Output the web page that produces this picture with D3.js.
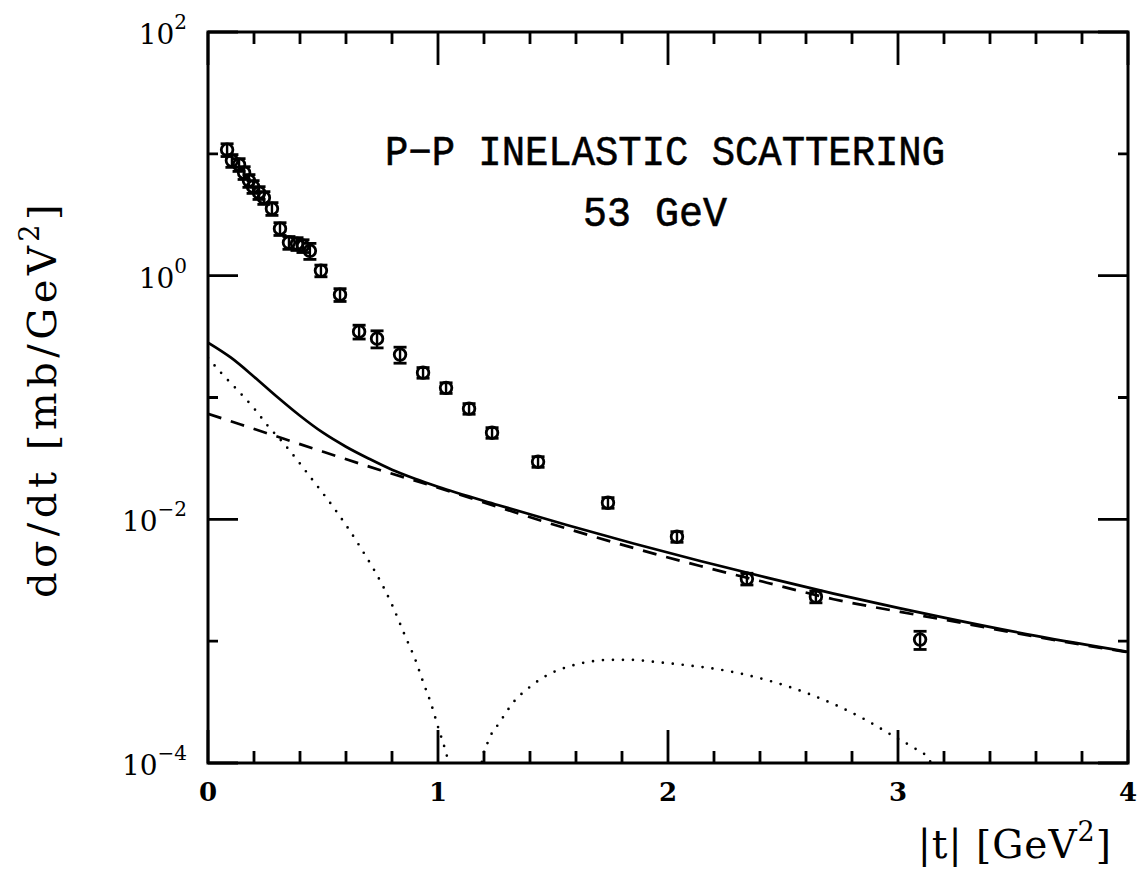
<!DOCTYPE html>
<html><head><meta charset="utf-8">
<script src="https://cdn.jsdelivr.net/npm/d3@7"></script>
<style>body{margin:0;background:#fff}</style>
</head><body>
<svg id="c" width="1143" height="873" xmlns="http://www.w3.org/2000/svg"></svg>
<script>
// ---- data ----
const ptT = [0.083,0.104,0.135,0.157,0.178,0.196,0.222,0.243,0.278,0.313,0.352,0.387,0.413,0.443,0.491,0.574,0.657,0.735,0.835,0.935,1.035,1.135,1.235,1.435,1.739,2.039,2.343,2.643,3.096];
const ptV = [10.8,8.8,8.15,7.0,6.03,5.38,4.8,4.37,3.55,2.43,1.87,1.83,1.76,1.6,1.1,0.698,0.347,0.304,0.225,0.160,0.120,0.081,0.0514,0.0297,0.0137,0.0072,0.00325,0.00232,0.00103];
const ptErr = [0.12,0.12,0.12,0.12,0.12,0.12,0.12,0.12,0.12,0.12,0.12,0.12,0.12,0.15,0.11,0.12,0.13,0.16,0.15,0.1,0.1,0.1,0.1,0.1,0.1,0.1,0.11,0.11,0.17];

const solidT = [0,0.1,0.2,0.3,0.4,0.5,0.6,0.7,0.8,0.9,1.0,1.26,1.56,1.85,2.14,2.43,2.72,3.01,3.2,3.6,4.0];
const solidV = [0.282,0.2122,0.1482,0.1015,0.0709,0.0514,0.03946,0.03145,0.02554,0.02154,0.01852,0.01313,0.00898,0.00634,0.00455,0.00332,0.002455,0.001859,0.00156,0.001105,0.000818];

const dashT = [0,0.25,0.5,0.75,1.0,1.26,1.56,1.85,2.14,2.43,2.72,3.01,3.2,3.6,4.0];
const dashV = [0.0736,0.0514,0.0359,0.0253,0.01817,0.01264,0.0084,0.00582,0.00414,0.00302,0.00221,0.00174,0.0015,0.001085,0.00081];

const dot1T = [0.0,0.06,0.13,0.2,0.26,0.33,0.39,0.45,0.55,0.65,0.8,0.86,0.9,0.935,0.97,1.0,1.03,1.06];
const dot1V = [0.212,0.157,0.114,0.0815,0.0586,0.0418,0.0303,0.0216,0.01222,0.00643,0.00199,0.00107,0.000716,0.000464,0.000306,0.000198,0.000131,0.00008];

const dot2T = [1.18,1.19,1.217,1.27,1.326,1.4,1.478,1.565,1.657,1.75,1.843,1.935,2.026,2.3,2.6,2.85,3.0,3.07,3.13,3.17];
const dot2V = [0.00007,0.0001,0.000149,0.000218,0.000312,0.000422,0.00053,0.000616,0.000678,0.000703,0.000703,0.000678,0.000652,0.00055,0.000377,0.000231,0.000158,0.000133,0.00011,0.00008];

const xMajor = [0,1,2,3,4];
const xTickLabels = ["0","1","2","3","4"];
const xMinor = [0.2,0.4,0.6,0.8,1.2,1.4,1.6,1.8,2.2,2.4,2.6,2.8,3.2,3.4,3.6,3.8];
const yMajor = [1e2,1e0,1e-2,1e-4];
const yTickExp = ["2","0","\u22122","\u22124"];
const yMinor = [1e1,1e-1,1e-3];

const titleLines = ["P\u2212P INELASTIC SCATTERING","53 GeV"];

// ---- drawing ----
const svg = d3.select("#c");
svg.append("rect").attr("width",1143).attr("height",873).attr("fill","#fff");
const L=208,R=1128,T=32,B=763;
const x = d3.scaleLinear().domain([0,4]).range([L,R]);
const y = d3.scaleLog().domain([1e-4,1e2]).range([B,T]);

svg.append("defs").append("clipPath").attr("id","clip")
  .append("rect").attr("x",L).attr("y",T).attr("width",R-L).attr("height",B-T);

// ticks (inward, on all four sides)
const tp = d3.path();
function xt(vals,len){ vals.forEach(d=>{ const px=x(d); tp.moveTo(px,B); tp.lineTo(px,B-len); tp.moveTo(px,T); tp.lineTo(px,T+len); }); }
function ytk(vals,len){ vals.forEach(d=>{ const py=y(d); tp.moveTo(L,py); tp.lineTo(L+len,py); tp.moveTo(R,py); tp.lineTo(R-len,py); }); }
xt(xMajor,33); xt(xMinor,12); ytk(yMajor,30); ytk(yMinor,10);
svg.append("path").attr("d",tp.toString()).attr("fill","none").attr("stroke","#000").attr("stroke-width",2.8);

svg.append("rect").attr("x",L).attr("y",T).attr("width",R-L).attr("height",B-T)
  .attr("fill","none").attr("stroke","#000").attr("stroke-width",3);

// tick labels
svg.append("g").selectAll("text").data(xMajor).join("text")
  .attr("x",d=>x(d)).attr("y",B+38).attr("text-anchor","middle")
  .attr("font-family","DejaVu Serif").attr("font-weight","bold").attr("font-size",26)
  .text((d,i)=>xTickLabels[i]);

const yl = svg.append("g").selectAll("text").data(yMajor).join("text")
  .attr("x",187).attr("y",d=>y(d)+12).attr("text-anchor","end")
  .attr("font-family","DejaVu Serif").attr("font-size",28);
yl.append("tspan").text("10");
yl.append("tspan").attr("dy",-15).attr("font-size",20).text((d,i)=>yTickExp[i]);

// curves
const line = d3.line().x(d=>x(d[0])).y(d=>y(d[1])).curve(d3.curveMonotoneX);
const cg = svg.append("g").attr("clip-path","url(#clip)");
cg.append("path").attr("d",line(d3.zip(solidT,solidV))).attr("fill","none").attr("stroke","#000").attr("stroke-width",2.7);
cg.append("path").attr("d",line(d3.zip(dashT,dashV))).attr("fill","none").attr("stroke","#000").attr("stroke-width",2.7).attr("stroke-dasharray","14 10");
[[dot1T,dot1V],[dot2T,dot2V]].forEach(([tt,vv])=>{
  cg.append("path").attr("d",line(d3.zip(tt,vv))).attr("fill","none").attr("stroke","#000")
    .attr("stroke-width",2.7).attr("stroke-linecap","round").attr("stroke-dasharray","0 10");
});

// data points with error bars
const pts = svg.append("g").selectAll("g").data(d3.range(ptT.length)).join("g");
pts.append("line").attr("x1",i=>x(ptT[i])).attr("x2",i=>x(ptT[i]))
  .attr("y1",i=>y(ptV[i]*(1+ptErr[i]))).attr("y2",i=>y(ptV[i]*(1-ptErr[i])))
  .attr("stroke","#000").attr("stroke-width",2.4);
[1,-1].forEach(s=>{
  pts.append("line").attr("x1",i=>x(ptT[i])-6.5).attr("x2",i=>x(ptT[i])+6.5)
    .attr("y1",i=>y(ptV[i]*(1+s*ptErr[i]))).attr("y2",i=>y(ptV[i]*(1+s*ptErr[i])))
    .attr("stroke","#000").attr("stroke-width",2.8);
});
pts.append("circle").attr("cx",i=>x(ptT[i])).attr("cy",i=>y(ptV[i])).attr("r",5.8)
  .attr("fill","none").attr("stroke","#000").attr("stroke-width",2.8);

// title
svg.append("text").attr("x",665).attr("y",165).attr("text-anchor","middle")
  .attr("font-family","Liberation Mono").attr("font-size",42).attr("textLength",560).attr("lengthAdjust","spacingAndGlyphs")
  .attr("stroke","#000").attr("stroke-width",0.6)
  .text(titleLines[0]);
svg.append("text").attr("x",655).attr("y",226).attr("text-anchor","middle")
  .attr("font-family","Liberation Mono").attr("font-size",42).attr("textLength",144).attr("lengthAdjust","spacingAndGlyphs")
  .attr("stroke","#000").attr("stroke-width",0.6)
  .text(titleLines[1]);

// axis titles
const ytl = svg.append("text").attr("transform","translate(56,399) rotate(-90)").attr("text-anchor","middle")
  .attr("font-family","DejaVu Serif").attr("font-size",40).attr("letter-spacing",4.5);
ytl.append("tspan").text("d\u03C3/dt [mb/GeV");
ytl.append("tspan").attr("dy",-17).attr("font-size",27).text("2");
ytl.append("tspan").attr("dy",17).text("]");

const xtl = svg.append("text").attr("x",1112).attr("y",858).attr("text-anchor","end")
  .attr("font-family","DejaVu Serif").attr("font-size",39).attr("letter-spacing",1);
xtl.append("tspan").text("|t| [GeV");
xtl.append("tspan").attr("dy",-17).attr("font-size",27).text("2");
xtl.append("tspan").attr("dy",17).text("]");
</script>
</body></html>
